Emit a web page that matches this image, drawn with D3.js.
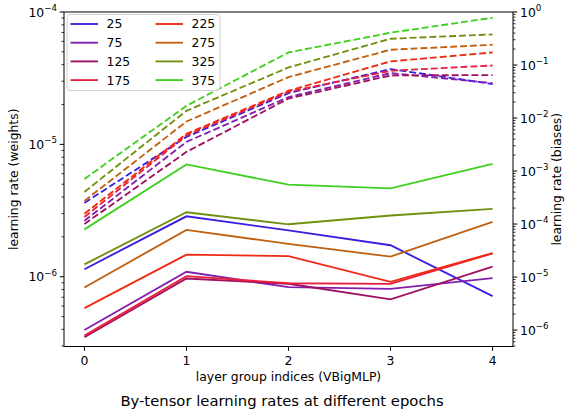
<!DOCTYPE html>
<html><head><meta charset="utf-8">
<script src="https://cdn.jsdelivr.net/npm/d3@7"></script>
<style>body{margin:0;background:#fff}svg{display:block;font-family:"DejaVu Sans",sans-serif}</style>
</head><body>
<svg id="c" width="570" height="413"></svg>
<script>
const layers = [0, 1, 2, 3, 4];
const epochs = ["25", "75", "125", "175", "225", "275", "325", "375"];
const colors = ["#3a1fe0", "#8020b0", "#a01060", "#e82040", "#ee2a10", "#c06010", "#709010", "#40d020"];
const xTicks = [0, 1, 2, 3, 4];
const leftDecades = [-6, -5, -4];
const rightDecades = [-6, -5, -4, -3, -2, -1, 0];

// weights (solid, left axis)
const w_25  = [1.14e-6, 2.86e-6, 2.24e-6, 1.73e-6, 7.13e-7];
const w_75  = [3.96e-7, 1.09e-6, 8.34e-7, 8.09e-7, 9.75e-7];
const w_125 = [3.49e-7, 9.7e-7, 8.85e-7, 6.74e-7, 1.19e-6];
const w_175 = [3.59e-7, 1.01e-6, 8.93e-7, 8.83e-7, 1.50e-6];
const w_225 = [5.8e-7, 1.47e-6, 1.43e-6, 9.14e-7, 1.51e-6];
const w_275 = [8.3e-7, 2.26e-6, 1.77e-6, 1.42e-6, 2.60e-6];
const w_325 = [1.24e-6, 3.07e-6, 2.49e-6, 2.90e-6, 3.26e-6];
const w_375 = [2.28e-6, 7.05e-6, 4.96e-6, 4.65e-6, 7.13e-6];

// biases (dashed, right axis)
const b_25  = [2.5e-4, 4.41e-3, 0.0295, 0.0838, 0.0437];
const b_75  = [1.15e-4, 3.55e-3, 0.0248, 0.0704, 0.0456];
const b_125 = [1.0e-4, 2.3e-3, 0.0233, 0.0635, 0.0646];
const b_175 = [1.36e-4, 4.7e-3, 0.0312, 0.0779, 0.098];
const b_225 = [1.56e-4, 5.03e-3, 0.0327, 0.117, 0.1726];
const b_275 = [2.73e-4, 8.6e-3, 0.0592, 0.194, 0.241];
const b_325 = [4.03e-4, 0.0137, 0.090, 0.313, 0.378];
const b_375 = [7.1e-4, 0.017, 0.1726, 0.407, 0.78];

const weights = [w_25, w_75, w_125, w_175, w_225, w_275, w_325, w_375];
const biases = [b_25, b_75, b_125, b_175, b_225, b_275, b_325, b_375];

const svg = d3.select("#c");
const L = 64, R = 513, T = 12, B = 346.5;
const x = d3.scaleLinear().domain([-0.2, 4.2]).range([L, R]);
const yL = d3.scaleLog().domain([Math.pow(10, -6.527), 1e-4]).range([B, T]);
const yR = d3.scaleLog().domain([Math.pow(10, -6.31), 1]).range([B, T]);

const FS = 12.4;
const lineL = d3.line().x((d, i) => x(layers[i])).y(d => yL(d));
const lineR = d3.line().x((d, i) => x(layers[i])).y(d => yR(d));

const plot = svg.append("g");
weights.forEach((s, k) => {
  plot.append("path").attr("d", lineL(s)).attr("fill", "none")
    .attr("stroke", colors[k]).attr("stroke-width", 1.85);
});
biases.forEach((s, k) => {
  plot.append("path").attr("d", lineR(s)).attr("fill", "none")
    .attr("stroke", colors[k]).attr("stroke-width", 1.85)
    .attr("stroke-dasharray", "6.9,3");
});

// frame
svg.append("rect").attr("x", L).attr("y", T).attr("width", R - L).attr("height", B - T)
  .attr("fill", "none").attr("stroke", "#000").attr("stroke-width", 1);

// x axis
const gx = svg.append("g");
xTicks.forEach(t => {
  gx.append("line").attr("x1", x(t)).attr("x2", x(t)).attr("y1", B).attr("y2", B + 4.3).attr("stroke", "#000");
  gx.append("text").attr("x", x(t)).attr("y", B + 18).attr("text-anchor", "middle")
    .attr("font-size", FS).text(t);
});

function logTicks(g, scale, decades, side) {
  const dom = scale.domain();
  const lo = Math.log10(dom[0]), hi = Math.log10(dom[1]);
  const dir = side === "left" ? -1 : 1;
  const X0 = side === "left" ? L : R;
  for (let e = Math.floor(lo); e <= Math.ceil(hi); e++) {
    for (let m = 2; m <= 9; m++) {
      const v = m * Math.pow(10, e);
      if (Math.log10(v) < lo - 1e-9 || Math.log10(v) > hi + 1e-9) continue;
      g.append("line").attr("x1", X0).attr("x2", X0 + dir * 2.5)
        .attr("y1", scale(v)).attr("y2", scale(v)).attr("stroke", "#000").attr("stroke-width", 0.8);
    }
  }
  decades.forEach(e => {
    const yy = scale(Math.pow(10, e));
    g.append("line").attr("x1", X0).attr("x2", X0 + dir * 4.3)
      .attr("y1", yy).attr("y2", yy).attr("stroke", "#000");
    const t = g.append("text").attr("font-size", FS).attr("y", yy + 4.5)
      .attr("x", side === "left" ? X0 - 7 : X0 + 7)
      .attr("text-anchor", side === "left" ? "end" : "start");
    t.append("tspan").text("10");
    t.append("tspan").attr("font-size", FS * 0.7).attr("dy", -5.5).text(e === 0 ? "0" : "\u2212" + Math.abs(e));
  });
}
logTicks(svg.append("g"), yL, leftDecades, "left");
logTicks(svg.append("g"), yR, rightDecades, "right");

// axis labels
svg.append("text").attr("x", (L + R) / 2).attr("y", 381).attr("text-anchor", "middle")
  .attr("font-size", FS).text("layer group indices (VBigMLP)");
svg.append("text").attr("transform", `translate(18,${(T + B) / 2}) rotate(-90)`)
  .attr("text-anchor", "middle").attr("font-size", FS).text("learning rate (weights)");
svg.append("text").attr("transform", `translate(561,${(T + B) / 2}) rotate(-90)`)
  .attr("text-anchor", "middle").attr("font-size", FS).text("learning rate (biases)");
svg.append("text").attr("x", 282).attr("y", 406).attr("text-anchor", "middle")
  .attr("font-size", 14.8).text("By-tensor learning rates at different epochs");

// legend
const lg = svg.append("g");
lg.append("rect").attr("x", 67).attr("y", 14.5).attr("width", 153).attr("height", 76).attr("rx", 3)
  .attr("fill", "#fff").attr("fill-opacity", 0.8).attr("stroke", "#d0d0d0").attr("stroke-width", 1);
epochs.forEach((ep, k) => {
  const col = Math.floor(k / 4), row = k % 4;
  const lx = col === 0 ? 70.5 : 155.5;
  const ly = 24 + row * 18.7;
  lg.append("line").attr("x1", lx).attr("x2", lx + 27.5).attr("y1", ly).attr("y2", ly)
    .attr("stroke", colors[k]).attr("stroke-width", 1.85);
  lg.append("text").attr("x", lx + 36).attr("y", ly + 4.4).attr("font-size", FS).text(ep);
});
</script>
</body></html>
